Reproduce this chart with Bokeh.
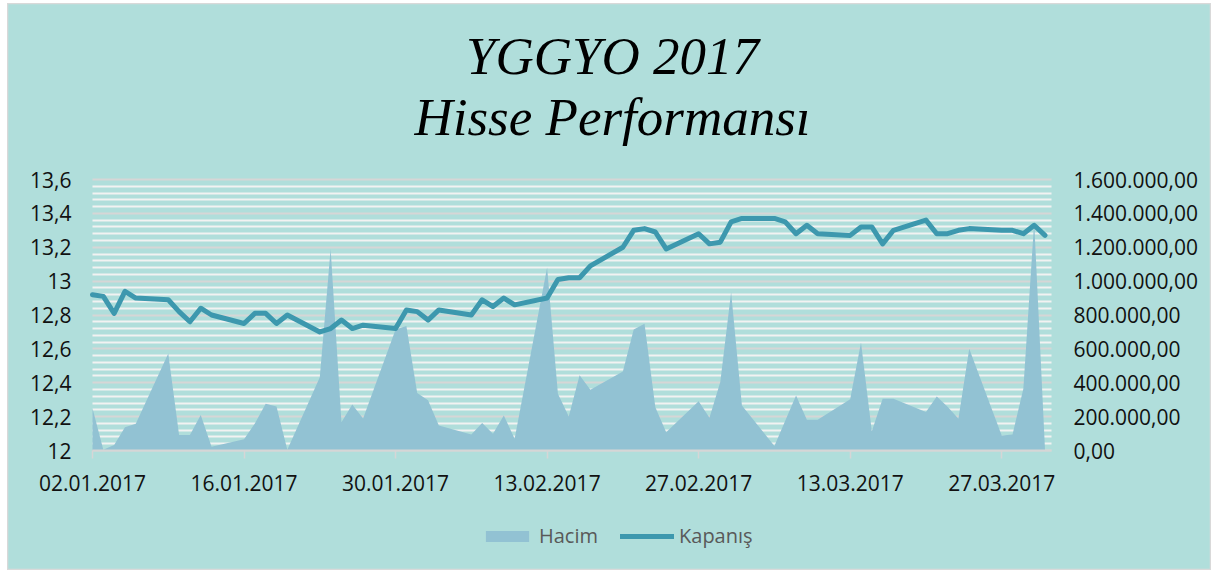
import pandas as pd
from bokeh.plotting import figure
from bokeh.models import (Range1d, LinearAxis, FixedTicker, Label, Legend, LegendItem,
                          ColumnDataSource, Grid)
from bokeh.embed import file_html
from bokeh.resources import INLINE

# ---------------- data ----------------
dates = [
    "2017-01-02", "2017-01-03", "2017-01-04", "2017-01-05", "2017-01-06",
    "2017-01-09", "2017-01-10", "2017-01-11", "2017-01-12", "2017-01-13",
    "2017-01-16", "2017-01-17", "2017-01-18", "2017-01-19", "2017-01-20",
    "2017-01-23", "2017-01-24", "2017-01-25", "2017-01-26", "2017-01-27",
    "2017-01-30", "2017-01-31", "2017-02-01", "2017-02-02", "2017-02-03",
    "2017-02-06", "2017-02-07", "2017-02-08", "2017-02-09", "2017-02-10",
    "2017-02-13", "2017-02-14", "2017-02-15", "2017-02-16", "2017-02-17",
    "2017-02-20", "2017-02-21", "2017-02-22", "2017-02-23", "2017-02-24",
    "2017-02-27", "2017-02-28", "2017-03-01", "2017-03-02", "2017-03-03",
    "2017-03-06", "2017-03-07", "2017-03-08", "2017-03-09", "2017-03-10",
    "2017-03-13", "2017-03-14", "2017-03-15", "2017-03-16", "2017-03-17",
    "2017-03-20", "2017-03-21", "2017-03-22", "2017-03-23", "2017-03-24",
    "2017-03-27", "2017-03-28", "2017-03-29", "2017-03-30", "2017-03-31",
]

kapanis = [
    12.92, 12.91, 12.81, 12.94, 12.90,
    12.89, 12.82, 12.76, 12.84, 12.80,
    12.75, 12.81, 12.81, 12.75, 12.80,
    12.70, 12.72, 12.77, 12.72, 12.74,
    12.72, 12.83, 12.82, 12.77, 12.83,
    12.80, 12.89, 12.85, 12.90, 12.86,
    12.90, 13.01, 13.02, 13.02, 13.09,
    13.20, 13.30, 13.31, 13.29, 13.19,
    13.28, 13.22, 13.23, 13.35, 13.37,
    13.37, 13.35, 13.28, 13.33, 13.28,
    13.27, 13.32, 13.32, 13.22, 13.30,
    13.36, 13.28, 13.28, 13.30, 13.31,
    13.30, 13.30, 13.28, 13.33, 13.27,
]

hacim = [
    250000, 5000, 32000, 138000, 158000,
    573000, 91000, 91000, 209000, 22000,
    66000, 160000, 276000, 260000, 5000,
    433000, 1190000, 167000, 271000, 189000,
    714000, 735000, 339000, 296000, 148000,
    95000, 162000, 99000, 207000, 69000,
    1080000, 335000, 201000, 445000, 359000,
    467000, 715000, 749000, 256000, 108000,
    291000, 193000, 404000, 934000, 266000,
    27000, 175000, 325000, 181000, 181000,
    302000, 638000, 113000, 305000, 305000,
    227000, 319000, 258000, 187000, 601000,
    89000, 95000, 365000, 1350000, 5000,
]

left_ticks = [12.0, 12.2, 12.4, 12.6, 12.8, 13.0, 13.2, 13.4, 13.6]
left_labels = ["12", "12,2", "12,4", "12,6", "12,8", "13", "13,2", "13,4", "13,6"]
right_ticks = [0, 200000, 400000, 600000, 800000, 1000000, 1200000, 1400000, 1600000]
right_labels = ["0,00", "200.000,00", "400.000,00", "600.000,00", "800.000,00",
                "1.000.000,00", "1.200.000,00", "1.400.000,00", "1.600.000,00"]
x_tick_dates = ["2017-01-02", "2017-01-16", "2017-01-30", "2017-02-13",
                "2017-02-27", "2017-03-13", "2017-03-27"]
x_tick_labels = ["02.01.2017", "16.01.2017", "30.01.2017", "13.02.2017",
                 "27.02.2017", "13.03.2017", "27.03.2017"]

title_lines = ["YGGYO 2017", "Hisse Performansı"]
series_names = ["Hacim", "Kapanış"]

# ---------------- styling / layout ----------------
BG = "#b0dedb"
AREA = "#92c2d3"
LINE = "#3d98ae"
MAJOR_GRID = "#d6d6d6"
MINOR_GRID = "#f2f2f2"
FONT = "Open Sans"

W, H = 1204, 567          # figure size (placed at page x=7, y=3)
PLOT_LEFT = 85            # px from figure left to the first date
PLOT_W = 959              # px width of the plotting area
PLOT_BOTTOM = 120         # px from figure bottom to the value 12 / 0
PLOT_H = 271              # px between 12 and 13.6
SPAN_DAYS = 88.6          # days shown across the plotting area

DAY = 86400000.0


def ms(s):
    return float(pd.Timestamp(s).value // 10**6)


x_vals = [ms(d) for d in dates]
xt = [ms(d) for d in x_tick_dates]
x0 = ms(dates[0])
x1 = x0 + SPAN_DAYS * DAY
xpp = (x1 - x0) / PLOT_W
x_range = Range1d(x0 - PLOT_LEFT * xpp, x0 + (W - PLOT_LEFT) * xpp)

lo, hi = left_ticks[0], left_ticks[-1]
per_px = (hi - lo) / PLOT_H
top_px = H - PLOT_BOTTOM - PLOT_H
y_range = Range1d(lo - PLOT_BOTTOM * per_px, hi + top_px * per_px)
vlo, vhi = right_ticks[0], right_ticks[-1]
vper_px = (vhi - vlo) / PLOT_H
v_range = Range1d(vlo - PLOT_BOTTOM * vper_px, vhi + top_px * vper_px)

src = ColumnDataSource(dict(x=x_vals, close=kapanis, vol=hacim))

p = figure(width=W, height=H, output_backend="svg", toolbar_location=None,
           x_range=x_range, y_range=y_range,
           x_axis_type=None, y_axis_type=None, margin=(3, 0, 0, 7),
           min_border_left=0, min_border_right=0, min_border_top=0, min_border_bottom=0)
p.extra_y_ranges = {"vol": v_range}
p.background_fill_color = BG
p.border_fill_color = BG
p.outline_line_color = "#d9d9d9"
p.outline_line_width = 1.5

minor = []
for i in range(40):
    val = round(lo + i * 0.04, 2)
    if round(val * 5, 6) != round(val * 5):
        minor.append(val)

lticker = FixedTicker(ticks=left_ticks, minor_ticks=minor)
grid = Grid(dimension=1, ticker=lticker, grid_line_color=MAJOR_GRID, grid_line_width=2,
            minor_grid_line_color=MINOR_GRID, minor_grid_line_width=2)
if "cross_bounds" in Grid.properties():
    grid.cross_bounds = (x0, x1)
p.add_layout(grid)

area = p.varea(x="x", y1=0, y2="vol", source=src, y_range_name="vol", fill_color=AREA)
line = p.line(x="x", y="close", source=src, line_width=5, line_color=LINE,
              line_join="round", line_cap="round")

xaxis = LinearAxis(ticker=FixedTicker(ticks=xt), fixed_location=lo, bounds=(x0, x1),
                   major_label_overrides=dict(zip(xt, x_tick_labels)),
                   axis_line_color=MAJOR_GRID, axis_line_width=2,
                   major_tick_line_color=MAJOR_GRID, major_tick_line_width=1.5,
                   major_tick_in=0, major_tick_out=8, minor_tick_out=0, minor_tick_in=0,
                   major_label_text_font=FONT, major_label_text_font_size="21px",
                   major_label_text_color="#111111", major_label_standoff=16)
p.add_layout(xaxis, "below")

yleft = LinearAxis(ticker=lticker, fixed_location=x0, bounds=(lo, hi),
                   major_label_overrides=dict(zip(left_ticks, left_labels)),
                   axis_line_color=None, major_tick_line_color=None, minor_tick_line_color=None,
                   major_tick_out=0, minor_tick_out=0,
                   major_label_text_font=FONT, major_label_text_font_size="21px",
                   major_label_text_color="#111111", major_label_standoff=21)
p.add_layout(yleft, "left")

yright = LinearAxis(y_range_name="vol", ticker=FixedTicker(ticks=right_ticks),
                    fixed_location=x1, bounds=(vlo, vhi),
                    major_label_overrides=dict(zip(right_ticks, right_labels)),
                    axis_line_color=None, major_tick_line_color=None, minor_tick_line_color=None,
                    major_tick_out=0, minor_tick_out=0,
                    major_label_text_font=FONT, major_label_text_font_size="21px",
                    major_label_text_color="#111111", major_label_standoff=22)
p.add_layout(yright, "right")

for txt, yy in zip(title_lines, [515, 454]):
    p.add_layout(Label(x=605, y=yy, x_units="screen", y_units="screen", text=txt,
                       text_align="center", text_baseline="alphabetic",
                       text_font="Liberation Serif", text_font_style="italic",
                       text_font_size="53px", text_color="#000000"))

legend = Legend(items=[LegendItem(label=series_names[0], renderers=[area]),
                       LegendItem(label=series_names[1], renderers=[line])],
                location=(473, 21), orientation="horizontal",
                glyph_width=54, glyph_height=14, label_standoff=5, spacing=22,
                label_text_font=FONT, label_text_font_size="20px", label_text_color="#595959",
                padding=0, margin=0, border_line_color=None, background_fill_alpha=0)
p.add_layout(legend, "center")

open("out.html", "w").write(file_html(p, INLINE))
